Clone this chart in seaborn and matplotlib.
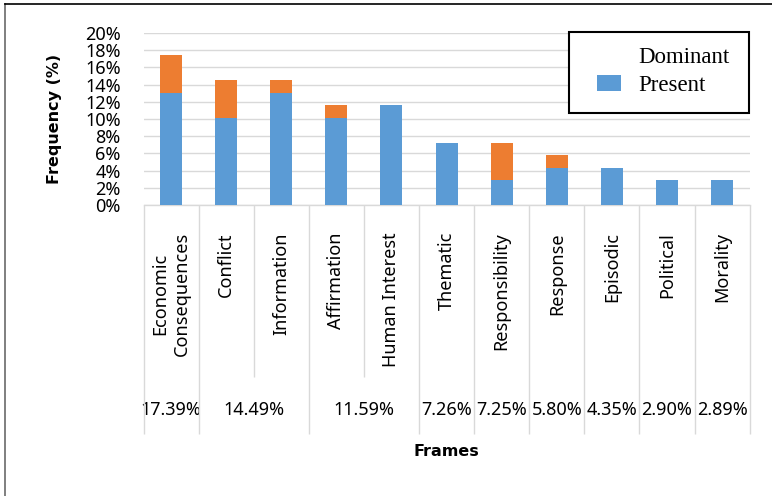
import matplotlib
matplotlib.use("Agg")
import matplotlib.pyplot as plt
import seaborn as sns
import numpy as np
import pandas as pd
from matplotlib.patches import Patch, Rectangle
from matplotlib.lines import Line2D

# ---------------- data ----------------
categories = ["Economic\nConsequences", "Conflict", "Information", "Affirmation",
              "Human Interest", "Thematic", "Responsibility", "Response",
              "Episodic", "Political", "Morality"]
present = [13.04, 10.14, 13.04, 10.14, 11.59, 7.25, 2.90, 4.35, 4.35, 2.90, 2.90]
dominant = [4.35, 4.35, 1.45, 1.45, 0.0, 0.0, 4.35, 1.45, 0.0, 0.0, 0.0]
group_labels = ["17.39%", "14.49%", "11.59%", "7.26%", "7.25%", "5.80%", "4.35%", "2.90%", "2.89%"]
group_sizes = [1, 2, 2, 1, 1, 1, 1, 1, 1]
y_ticks = [0, 2, 4, 6, 8, 10, 12, 14, 16, 18, 20]
y_tick_labels = [f"{t}%" for t in y_ticks]

BLUE = "#5B9BD5"
ORANGE = "#ED7D31"
GRID = "#D9D9D9"

plt.rcParams["font.family"] = ["Noto Sans", "DejaVu Sans"]

W, H = 772, 496
fig = plt.figure(figsize=(W / 100, H / 100), dpi=100)
fig.patch.set_facecolor("white")

left_px, right_px, top_px, bot_px = 143.5, 749.6, 33, 205
ax = fig.add_axes([left_px / W, 1 - bot_px / H, (right_px - left_px) / W, (bot_px - top_px) / H])

df = pd.DataFrame({"Frame": categories, "Present": present, "Dominant": dominant})
df["Total"] = df["Present"] + df["Dominant"]

sns.barplot(data=df, x="Frame", y="Total", color=ORANGE, saturation=1, width=0.4,
            linewidth=0, ax=ax, zorder=2)
sns.barplot(data=df, x="Frame", y="Present", color=BLUE, saturation=1, width=0.4,
            linewidth=0, ax=ax, zorder=3)

n = len(categories)
ax.set_xlim(-0.5, n - 0.5)
ax.set_ylim(0, 20)
ax.set_yticks(y_ticks)
ax.set_yticklabels(y_tick_labels)
ax.yaxis.grid(True, color=GRID, linewidth=1.0)
ax.xaxis.grid(False)
ax.set_axisbelow(True)
ax.tick_params(axis="y", length=0, pad=16.4, labelsize=13, left=False)

for s in ["top", "right", "left"]:
    ax.spines[s].set_visible(False)
ax.spines["bottom"].set_color(GRID)
ax.spines["bottom"].set_linewidth(1.0)

# inner category labels
ax.set_xticks(range(n))
ax.set_xticklabels(categories, rotation=90, va="top", ha="center",
                   multialignment="center", fontsize=13, linespacing=1.3)
ax.tick_params(axis="x", which="major", length=0, pad=19.5)

# boundaries
bounds = np.concatenate([[0], np.cumsum(group_sizes)]) - 0.5
outer = list(bounds)
inner = [k - 0.5 for k in range(1, n) if (k - 0.5) not in outer]
ax.set_xticks(outer, minor=True)
ax.tick_params(axis="x", which="minor", bottom=True, direction="out",
               length=229 * 0.72, width=1.0, color=GRID)

sec_inner = ax.secondary_xaxis("bottom")
sec_inner.set_xticks(inner)
sec_inner.set_xticklabels([])
sec_inner.tick_params(axis="x", bottom=True, direction="out", length=172 * 0.72,
                      width=1.0, color=GRID)
sec_inner.spines["bottom"].set_visible(False)

centers = [(bounds[i] + bounds[i + 1]) / 2 for i in range(len(group_sizes))]
sec_group = ax.secondary_xaxis("bottom")
sec_group.set_xticks(centers)
sec_group.set_xticklabels(group_labels, fontsize=13)
sec_group.tick_params(axis="x", length=0, pad=141)
sec_group.spines["bottom"].set_visible(False)

bold = {"family": "DejaVu Sans", "weight": "bold", "size": 11.5}
ax.set_xlabel("Frames", fontdict=bold)
ax.xaxis.set_label_coords(0.5, -(444 - bot_px) / (bot_px - top_px))
ax.set_ylabel("Frequency (%)", fontdict=bold)
ax.yaxis.set_label_coords((62 - left_px) / (right_px - left_px), 0.5)

# chart-area frame (partially outside image)
fig.add_artist(Line2D([5 / W, 5 / W], [0, 1 - 4 / H], transform=fig.transFigure,
                      color="#7F7F7F", linewidth=1.4))
fig.add_artist(Line2D([5 / W, 1], [1 - 4 / H, 1 - 4 / H], transform=fig.transFigure,
                      color="black", linewidth=1.2))

# legend
box = Rectangle((569 / W, 1 - 113 / H), 180 / W, 81 / H, transform=fig.transFigure,
                facecolor="white", edgecolor="black", linewidth=1.5, zorder=4)
fig.add_artist(box)
handles = [Patch(facecolor="none", edgecolor="none", label="Dominant"),
           Patch(facecolor=BLUE, edgecolor="none", label="Present")]
leg = fig.legend(handles=handles, loc="upper left", bbox_to_anchor=(597 / W, 1 - 47 / H),
                 bbox_transform=fig.transFigure, frameon=False, borderpad=0,
                 borderaxespad=0, prop={"family": "Liberation Serif", "size": 16.5},
                 handlelength=24 / 23, handleheight=16 / 23, handletextpad=0.78,
                 labelspacing=0.32)
leg.set_zorder(6)

fig.savefig("out.png", dpi=100, facecolor="white")
